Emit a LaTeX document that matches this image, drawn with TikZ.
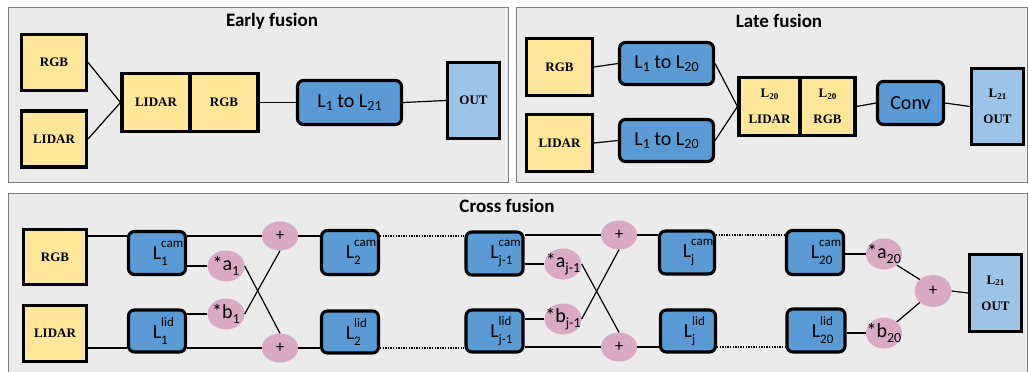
\documentclass[tikz,border=0pt]{standalone}
\usepackage{fontspec}
\setmainfont{Carlito}
\newfontfamily\tnr{Liberation Serif}
\usetikzlibrary{shapes.geometric}
\definecolor{yel}{HTML}{FFE699}
\definecolor{blu}{HTML}{5B9BD5}
\definecolor{lblu}{HTML}{9DC3E6}
\definecolor{pnk}{HTML}{D9AAC2}
\definecolor{panelF}{HTML}{EBEBEB}
\definecolor{panelB}{HTML}{7F7F7F}
\newcommand\sub[1]{\lower3pt\hbox{\fontsize{14}{14}\selectfont #1}}
\newcommand\esub[1]{\lower4.5pt\hbox{\fontsize{14}{14}\selectfont #1}}
\newcommand\ssub[1]{\lower1.5pt\hbox{\fontsize{9}{9}\selectfont #1}}
\newcommand\LL[2]{L\begingroup\fontsize{13}{13}\selectfont
 \setbox0\hbox{#1}\setbox2\hbox{#2}%
 \dimen0=\wd0 \ifdim\wd2>\dimen0 \dimen0=\wd2\fi
 \rlap{\raise 12pt\box0}\rlap{\lower 6pt\box2}\hskip\dimen0\endgroup}
\tikzset{
 panel/.style={draw=panelB, fill=panelF, line width=0.9pt},
 sz/.style 2 args={minimum width=#1pt, minimum height=#2pt},
 ybox/.style={draw, fill=yel, line width=3.1pt, inner sep=0pt, align=center,
   font=\tnr\bfseries\fontsize{13}{26}\selectfont},
 obox/.style={ybox, fill=lblu},
 bbox/.style={draw, fill=blu, rounded corners=6pt, line width=3.1pt, inner sep=0pt,
   font=\fontsize{20}{22}\selectfont},
 pk/.style={ellipse, fill=pnk, inner sep=0pt, minimum width=37pt, minimum height=31pt},
 pkt/.style={inner sep=0pt, font=\fontsize{20}{22}\selectfont},
 plus/.style={inner sep=0pt, font=\fontsize{17}{17}\selectfont},
 ttl/.style={font=\bfseries\fontsize{19}{22}\selectfont},
 ln/.style={line width=1.2pt},
 dl/.style={line width=1.3pt, dash pattern=on 1.3pt off 1.3pt}
}
\begin{document}
\begin{tikzpicture}[x=1pt,y=-1pt]
\useasboundingbox (0,0) rectangle (1028,372);
\fill[white] (0,0) rectangle (1028,372);
% panels
\draw[panel] (8,7) rectangle (508,182);
\draw[panel] (516,7) rectangle (1027,182);
\draw[panel] (8,193) rectangle (1027,380);

% ---------- Early fusion ----------
\node[ttl] (t1) at (272,21) {Early fusion};
\node[ybox, sz={65}{56}] (eRGB) at (54,62.5) {RGB};
\node[ybox, sz={65}{56}] (eLID) at (54,139) {LIDAR};
\node[ybox, sz={68}{58}] (eML) at (156,102.5) {LIDAR};
\node[ybox, sz={68}{58}] (eMR) at (224,102.5) {RGB};
\node[bbox, sz={104}{44}] (eL) at (349.5,102.5) {L\sub{1} to L\sub{21}};
\node[obox, sz={52}{76}] (eOut) at (473.5,100.5) {OUT};
\draw[ln] (eRGB.east) -- (eML.west);
\draw[ln] (eLID.east) -- (eML.west);
\draw[ln] (eMR.east) -- (eL.west);
\draw[ln] (eL.east) -- (eOut.west);

% ---------- Late fusion ----------
\node[ttl] (t2) at (779,21) {Late fusion};
\node[ybox, sz={66}{57}] (lRGB) at (559.5,67) {RGB};
\node[ybox, sz={66}{57}] (lLID) at (559.5,143) {LIDAR};
\node[bbox, sz={94}{42}] (lL1) at (666.5,63.5) {L\sub{1} to L\sub{20}};
\node[bbox, sz={94}{42}] (lL2) at (666.5,140.5) {L\sub{1} to L\sub{20}};
\node[ybox, sz={61}{58}] (lML) at (769.5,106.5) {L\ssub{20}\\LIDAR};
\node[ybox, sz={55}{58}] (lMR) at (827.5,106.5) {L\ssub{20}\\RGB};
\node[bbox, sz={66}{43}] (lConv) at (910.5,103) {Conv};
\node[obox, sz={52}{76}] (lOut) at (997.5,106.5) {L\ssub{21}\\OUT};
\draw[ln] (lRGB.east) -- (lL1.west);
\draw[ln] (lLID.east) -- (lL2.west);
\draw[ln] (lL1.east) -- (lML.west);
\draw[ln] (lL2.east) -- (lML.west);
\draw[ln] (lMR.east) -- (lConv.west);
\draw[ln] (lConv.east) -- (lOut.west);

% ---------- Cross fusion ----------
\node[ttl] (t3) at (507,206) {Cross fusion};
\node[ybox, sz={63}{55}] (cRGB) at (55,257) {RGB};
\node[ybox, sz={63}{56}] (cLID) at (55,333.5) {LIDAR};
\node[bbox, sz={57}{43}] (c1c) at (157,253) {\LL{cam}{1}};
\node[bbox, sz={57}{42}] (c1l) at (157,331) {\LL{lid}{1}};
\node[pk] (a1) at (226,266) {};
\node[pkt] (a1t) at (a1) {*a\esub{1}};
\node[pk] (b1) at (226,314) {};
\node[pkt] (b1t) at (b1) {*b\esub{1}};
\node[pk, sz={36}{29}] (p1t) at (280,236) {};
\node[plus] (p1tt) at (p1t) {+};
\node[pk, sz={36}{29}] (p1b) at (280,348) {};
\node[plus] (p1bt) at (p1b) {+};
\node[bbox, sz={57}{44}] (c2c) at (350,252.5) {\LL{cam}{2}};
\node[bbox, sz={57}{42}] (c2l) at (350,332) {\LL{lid}{2}};

\node[bbox, sz={57}{43}] (cjc1) at (494.5,253.5) {\LL{cam}{j-1}};
\node[bbox, sz={57}{42}] (cjl1) at (494.5,331) {\LL{lid}{j-1}};
\node[pk] (aj) at (563,264) {};
\node[pkt] (ajt) at (aj) {*a\esub{j-1}};
\node[pk] (bj) at (563,319) {};
\node[pkt] (bjt) at (bj) {*b\esub{j-1}};
\node[pk, sz={36}{29}] (pjt) at (619,235) {};
\node[plus] (pjtt) at (pjt) {+};
\node[pk, sz={36}{29}] (pjb) at (619,347) {};
\node[plus] (pjbt) at (pjb) {+};
\node[bbox, sz={55}{43}] (cjc) at (687,252.5) {\LL{cam}{j}};
\node[bbox, sz={55}{42}] (cjl) at (688,331) {\LL{lid}{j}};

\node[bbox, sz={57}{44}] (c20c) at (815,252.5) {\LL{cam}{20}};
\node[bbox, sz={58}{43}] (c20l) at (816,330.5) {\LL{lid}{20}};
\node[pk, sz={36}{31}] (a20) at (884,254) {};
\node[pkt] (a20t) at (a20) {*a\esub{20}};
\node[pk, sz={36}{31}] (b20) at (884,333) {};
\node[pkt] (b20t) at (b20) {*b\esub{20}};
\node[pk, sz={37}{32}] (pf) at (933,291) {};
\node[plus] (pft) at (pf) {+};
\node[obox, sz={52}{77}] (cOut) at (995.5,293) {L\ssub{21}\\OUT};

% top row
\draw[ln] (cRGB.east |- p1t.west) -- (c1c.west |- p1t.west);
\draw[ln] (c1c.east |- p1t.west) -- (p1t.west);
\draw[ln] (p1t.east) -- (c2c.west |- p1t.east);
\draw[dl] (c2c.east |- p1t.east) -- (cjc1.west |- p1t.east);
\draw[ln] (cjc1.east |- pjt.west) -- (pjt.west);
\draw[ln] (pjt.east) -- (cjc.west |- pjt.east);
\draw[dl] (cjc.east |- pjt.east) -- (c20c.west |- pjt.east);
% bottom row
\draw[ln] (cLID.east |- p1b.west) -- (c1l.west |- p1b.west);
\draw[ln] (c1l.east |- p1b.west) -- (p1b.west);
\draw[ln] (p1b.east) -- (c2l.west |- p1b.east);
\draw[dl] (c2l.east |- p1b.east) -- (cjl1.west |- p1b.east);
\draw[ln] (cjl1.east |- pjb.west) -- (pjb.west);
\draw[ln] (pjb.east) -- (cjl.west |- pjb.east);
\draw[dl] (cjl.east |- pjb.east) -- (c20l.west |- pjb.east);
% weights
\draw[ln] (c1c.east |- a1.west) -- (a1.west);
\draw[ln] (c1l.east |- b1.west) -- (b1.west);
\draw[ln] (a1.east) -- (p1b.north);
\draw[ln] (b1.east) -- (p1t.south);
\draw[ln] (cjc1.east |- aj.west) -- (aj.west);
\draw[ln] (cjl1.east |- bj.west) -- (bj.west);
\draw[ln] (aj.east) -- (pjb.north);
\draw[ln] (bj.east) -- (pjt.south);
\draw[ln] (c20c.east |- a20.west) -- (a20.west);
\draw[ln] (c20l.east |- b20.west) -- (b20.west);
\draw[ln] (a20.south east) -- (pf.north west);
\draw[ln] (b20.north east) -- (pf.south west);
\draw[ln] (pf.east) -- (cOut.west);
\end{tikzpicture}
\end{document}
